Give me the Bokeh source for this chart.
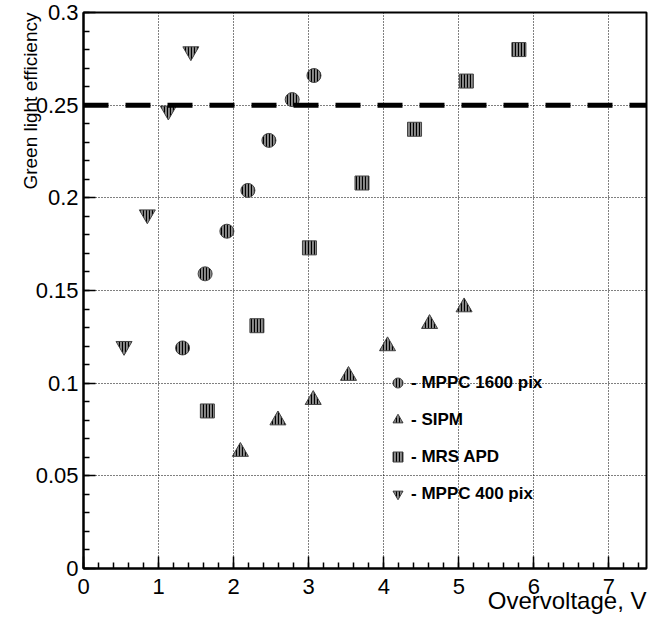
from bokeh.plotting import figure
from bokeh.models import Span, Legend, LegendItem, FixedTicker, Range1d, Title
from bokeh.embed import file_html
from bokeh.resources import INLINE

# ---- data ----
mppc1600_x = [1.32, 1.62, 1.91, 2.19, 2.47, 2.78, 3.07]
mppc1600_y = [0.119, 0.159, 0.182, 0.204, 0.231, 0.253, 0.266]

sipm_x = [2.09, 2.59, 3.06, 3.53, 4.05, 4.61, 5.07]
sipm_y = [0.063, 0.080, 0.091, 0.104, 0.120, 0.132, 0.141]

mrs_x = [1.65, 2.31, 3.01, 3.71, 4.41, 5.10, 5.80]
mrs_y = [0.085, 0.131, 0.173, 0.208, 0.237, 0.263, 0.280]

mppc400_x = [0.54, 0.85, 1.13, 1.43]
mppc400_y = [0.120, 0.191, 0.247, 0.279]

legend_labels = ["- MPPC 1600 pix", "- SIPM", "- MRS APD", "- MPPC 400 pix"]
reference_level = 0.25

x_ticks = [0, 1, 2, 3, 4, 5, 6, 7]
x_tick_labels = ["0", "1", "2", "3", "4", "5", "6", "7"]
y_ticks = [0, 0.05, 0.1, 0.15, 0.2, 0.25, 0.3]
y_tick_labels = ["0", "0.05", "0.1", "0.15", "0.2", "0.25", "0.3"]
x_minor = [i * 0.2 for i in range(0, 38)]
y_minor = [i * 0.01 for i in range(0, 31)]

x_title = "Overvoltage, V"
y_title = "Green light efficiency"

FONT = "Liberation Sans"

p = figure(width=656, height=619, output_backend="svg", toolbar_location=None,
           x_range=Range1d(0, 7.5), y_range=Range1d(0, 0.3),
           min_border_left=83, min_border_right=10, min_border_top=12, min_border_bottom=51)
p.background_fill_color = "white"
p.border_fill_color = "white"
p.outline_line_color = "black"
p.outline_line_width = 2

for ax, ticks, minor, labels in ((p.xaxis[0], x_ticks, x_minor, x_tick_labels),
                                 (p.yaxis[0], y_ticks, y_minor, y_tick_labels)):
    ax.ticker = FixedTicker(ticks=ticks, minor_ticks=minor)
    ax.major_label_overrides = {t: l for t, l in zip(ticks, labels)}
    ax.major_tick_in = 12
    ax.major_tick_out = 0
    ax.minor_tick_in = 6
    ax.minor_tick_out = 0
    ax.axis_line_width = 2
    ax.major_tick_line_width = 1.5
    ax.minor_tick_line_width = 1.5
    ax.major_label_text_font = FONT
    ax.major_label_text_font_size = "22px"
    ax.major_label_text_color = "black"

p.xaxis.major_label_standoff = 10
p.yaxis.major_label_standoff = 5

p.add_layout(Title(text=x_title, align="right", vertical_align="top", standoff=-20,
                   text_font=FONT, text_font_style="normal", text_font_size="24px",
                   text_color="black"), "below")
p.add_layout(Title(text=y_title, align="right", standoff=-16,
                   text_font=FONT, text_font_style="normal", text_font_size="19px",
                   text_color="black"), "left")

p.grid.grid_line_color = "black"
p.grid.grid_line_dash = "1 2"
p.grid.grid_line_width = 1
p.xgrid.ticker = FixedTicker(ticks=x_ticks)
p.ygrid.ticker = FixedTicker(ticks=y_ticks)

p.add_layout(Span(location=reference_level, dimension="width", line_color="black",
                  line_width=5, line_dash="25 17"))

style = dict(fill_color="#8c8c8c", line_color="#444444", line_width=1,
             hatch_pattern="vertical_line", hatch_color="black", hatch_scale=3,
             hatch_weight=1.2)
r1 = p.scatter(mppc1600_x, mppc1600_y, marker="circle", size=14, **style)
r2 = p.scatter(sipm_x, sipm_y, marker="triangle", size=16, **style)
r3 = p.scatter(mrs_x, mrs_y, marker="square", size=14, **style)
r4 = p.scatter(mppc400_x, mppc400_y, marker="inverted_triangle", size=16, **style)

legend = Legend(items=[LegendItem(label=l, renderers=[r]) for l, r in
                       zip(legend_labels, [r1, r2, r3, r4])],
                location=(302, 62), glyph_width=25, glyph_height=25, label_height=25,
                spacing=12, padding=0, margin=0, label_standoff=1,
                label_text_font=FONT, label_text_font_style="bold",
                label_text_font_size="17px", label_text_color="black",
                background_fill_alpha=0, border_line_color=None)
p.add_layout(legend)

open("out.html", "w").write(file_html(p, INLINE))
